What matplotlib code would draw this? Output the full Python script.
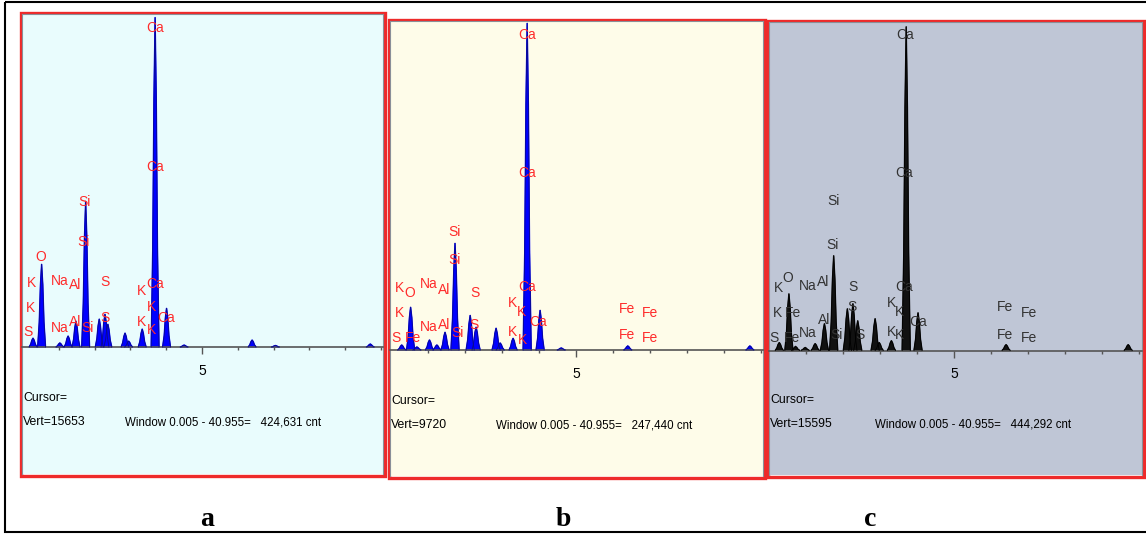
import numpy as np
import matplotlib.pyplot as plt
from matplotlib.patches import Rectangle

W, H = 1146, 535
SANS = ['Liberation Sans Narrow', 'Liberation Sans', 'DejaVu Sans']

# peaks: energy (keV) and height (counts)
a_energy = [0.28, 0.52, 1.03, 1.26, 1.48, 1.75, 2.13, 2.29, 2.37, 2.85, 2.95, 3.33, 3.69, 4.01, 4.50, 6.40, 7.05, 9.70]
a_counts = [420, 3900, 190, 520, 1220, 6860, 1320, 1550, 1080, 660, 280, 850, 15500, 1830, 90, 330, 70, 140]

b_energy = [0.29, 0.53, 0.70, 1.04, 1.24, 1.46, 1.73, 2.14, 2.30, 2.84, 2.95, 3.30, 3.68, 4.03, 4.60, 6.40, 9.70]
b_counts = [150, 1270, 90, 300, 150, 530, 3160, 1030, 680, 650, 210, 350, 9660, 1180, 60, 120, 120]

c_energy = [0.27, 0.53, 0.71, 0.97, 1.24, 1.49, 1.74, 2.11, 2.26, 2.39, 2.86, 2.97, 3.30, 3.70, 4.02, 6.40, 9.70]
c_counts = [380, 2700, 190, 140, 330, 1280, 4510, 1990, 2230, 1420, 1520, 380, 470, 15380, 1800, 280, 280]

# element markers: (symbol, keV, counts)
a_labels = [("Ca", 3.68, 14980), ("Ca", 3.68, 8470), ("Si", 1.72, 6830), ("Si", 1.70, 4950),
            ("O", 0.49, 4220), ("K", 0.23, 2990), ("K", 0.22, 1850), ("S", 0.14, 720),
            ("Na", 1.03, 3120), ("Al", 1.46, 2910), ("S", 2.28, 3070), ("Na", 1.03, 880),
            ("Al", 1.46, 1190), ("Si", 1.80, 880), ("S", 2.28, 1350), ("K", 3.30, 2630),
            ("Ca", 3.70, 2950), ("K", 3.58, 1890), ("K", 3.30, 1190), ("K", 3.58, 800),
            ("Ca", 4.00, 1350)]
b_labels = [("Ca", 3.67, 9305), ("Ca", 3.67, 5220), ("Si", 1.71, 3495), ("Si", 1.71, 2660),
            ("K", 0.24, 1820), ("O", 0.51, 1675), ("K", 0.22, 1085), ("S", 0.13, 345),
            ("Fe", 0.60, 345), ("Na", 1.01, 1950), ("Al", 1.44, 1770), ("S", 2.27, 1675),
            ("Na", 1.01, 670), ("Al", 1.44, 740), ("Si", 1.80, 495), ("S", 2.25, 740),
            ("K", 3.29, 1400), ("Ca", 3.67, 1850), ("K", 3.53, 1130), ("K", 3.29, 540),
            ("K", 3.56, 295), ("Ca", 3.98, 835), ("Fe", 6.37, 1200), ("Fe", 7.00, 1085),
            ("Fe", 6.37, 445), ("Fe", 7.00, 345)]
c_labels = [("Ca", 3.67, 14980), ("Ca", 3.65, 8410), ("Si", 1.73, 7110), ("Si", 1.71, 5010),
            ("K", 0.24, 2950), ("O", 0.51, 3430), ("Na", 1.04, 3060), ("Al", 1.46, 3270),
            ("S", 2.27, 3030), ("K", 0.23, 1790), ("Fe", 0.63, 1770), ("S", 0.12, 580),
            ("Fe", 0.62, 580), ("Na", 1.05, 845), ("Al", 1.49, 1450), ("Si", 1.82, 735),
            ("S", 2.24, 2080), ("S", 2.45, 735), ("K", 3.29, 2240), ("Ca", 3.65, 3030),
            ("K", 3.53, 1840), ("K", 3.29, 890), ("K", 3.53, 735), ("Ca", 4.03, 1370),
            ("Fe", 6.37, 2080), ("Fe", 7.03, 1770), ("Fe", 6.37, 735), ("Fe", 7.03, 580)]

vert = [15653, 9720, 15595]
total_cnt = ["424,631", "247,440", "444,292"]
letters = ["a", "b", "c"]

fig = plt.figure(figsize=(W / 100, H / 100), dpi=100)
bg = fig.add_axes([0, 0, 1, 1])
bg.set_xlim(0, W)
bg.set_ylim(H, 0)
bg.axis('off')
bg.add_patch(Rectangle((5, 2), W, 530, fill=False, ec='black', lw=1.5))


def panel(i, box, zero_px, ppk, base_px, face, fill, edge, lab_col, energy, counts, labels, letter_xy):
    x0, y0, x1, y1 = box
    bg.add_patch(Rectangle((x0 - 1.5, y0 - 1.5), x1 - x0 + 3, y1 - y0 + 3,
                           fill=False, ec='#ee2a2a', lw=2.4, zorder=5))
    ax = fig.add_axes([x0 / W, 1 - y1 / H, (x1 - x0) / W, (y1 - y0) / H])
    ax.set_facecolor(face)
    cpp = vert[i] / (base_px - y0)
    ax.set_xlim((x0 - zero_px) / ppk, (x1 - zero_px) / ppk)
    ax.set_ylim(-(y1 - base_px) * cpp, vert[i])

    w = 0.11
    for e, h in zip(energy, counts):
        xs = [e - w, e - 0.6 * w, e - 0.3 * w, e, e + 0.3 * w, e + 0.6 * w, e + w]
        ys = [0, 0.3 * h, 0.75 * h, h, 0.75 * h, 0.3 * h, 0]
        ax.fill(xs, ys, color=fill, zorder=2)
        ax.plot(xs, ys, color=edge, lw=0.6, zorder=3)

    for s, e, c in labels:
        ax.text(e, c, s, color=lab_col, fontsize=10, family=SANS, ha='center', va='center', zorder=4)

    for side in ['left', 'top', 'right']:
        ax.spines[side].set_color('#8a8f98')
        ax.spines[side].set_linewidth(0.8)
    ax.spines['bottom'].set_position(('data', 0))
    ax.spines['bottom'].set_color('#555555')
    ax.spines['bottom'].set_linewidth(1.2)
    ax.set_yticks([])
    ax.set_xticks([5])
    ax.set_xticklabels(['5'], family=SANS, fontsize=10)
    ax.set_xticks([1, 2, 3, 4, 6, 7, 8, 9, 10], minor=True)
    ax.tick_params(which='major', length=5, width=1, color='#555555', pad=7)
    ax.tick_params(which='minor', length=2.5, width=1, color='#555555')

    ax.text(0.003, 0.165, "Cursor=", transform=ax.transAxes, family=SANS, fontsize=8.8, va='center')
    ax.text(0.003, 0.112, "Vert=%d" % vert[i], transform=ax.transAxes, family=SANS, fontsize=8.8, va='center')
    ax.text(0.285, 0.112, "Window 0.005 - 40.955=   %s cnt" % total_cnt[i], transform=ax.transAxes,
            family=SANS, fontsize=8.3, va='center')

    bg.text(letter_xy[0], letter_xy[1], letters[i], family=['Liberation Serif', 'DejaVu Serif'],
            fontweight='bold', fontsize=20, ha='center', va='baseline')


panel(0, (22, 14, 383, 474), 23, 35.8, 347, '#e9fcfd', '#0000ff', '#0a0a8a', '#ff2b2b',
      a_energy, a_counts, a_labels, (207, 526))
panel(1, (390, 21, 763, 476), 391, 37.0, 350, '#fefce9', '#0000ff', '#0a0a8a', '#ff2b2b',
      b_energy, b_counts, b_labels, (563, 526))
panel(2, (769, 22, 1142, 475), 769.3, 37.0, 350.5, '#bfc6d6', '#111111', '#000000', '#333333',
      c_energy, c_counts, c_labels, (870, 526))

fig.savefig('out.png', dpi=100)
